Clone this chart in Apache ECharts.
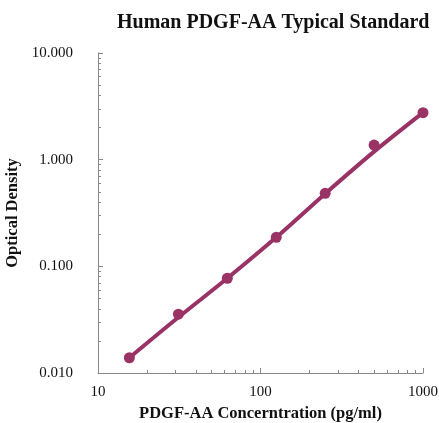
<!DOCTYPE html>
<html><head><meta charset="utf-8">
<script src="https://cdn.jsdelivr.net/npm/echarts@6/dist/echarts.min.js"></script>
<style>html,body{margin:0;padding:0;background:#fff}#c{width:439px;height:423px}</style>
</head><body><div id="c"></div>
<script>
var concentrations = [15.6, 31.25, 62.5, 125, 250, 500, 1000];
var odValues = [0.0139, 0.0356, 0.0773, 0.187, 0.484, 1.37, 2.76];
var fitValues = [0.0139, 0.0333, 0.0773, 0.187, 0.48, 1.19, 2.76];
var xMajorTicks = [10, 100, 1000];
var xMinorTicks = [20,30,40,50,60,70,80,90,200,300,400,500,600,700,800,900];
var yMajorTicks = [0.01, 0.1, 1, 10];
var yMinorTicks = [0.02,0.03,0.04,0.05,0.06,0.07,0.08,0.09,0.2,0.3,0.4,0.5,0.6,0.7,0.8,0.9,2,3,4,5,6,7,8,9];

var color = '#993366';
var font = 'Liberation Serif';
var chart = echarts.init(document.getElementById('c'));
chart.setOption({
  animation: false,
  title: {
    text: 'Human PDGF-AA Typical Standard',
    left: 112, top: 8,
    textStyle: {fontFamily: font, fontWeight: 'bold', fontSize: 20, color: '#111'}
  },
  grid: {left: 98, right: 16, top: 53, bottom: 50, containLabel: false, outerBoundsMode: 'none'},
  xAxis: [{
    type: 'log', min: 10, max: 1000, logBase: 10, position: 'bottom',
    name: 'PDGF-AA Concerntration (pg/ml)', nameLocation: 'middle', nameGap: 30,
    nameTextStyle: {fontFamily: font, fontWeight: 'bold', fontSize: 16.5, color: '#111'},
    axisLine: {show: true, lineStyle: {color: '#888', width: 1}},
    axisTick: {show: true, inside: true, length: 5, customValues: xMajorTicks, lineStyle: {color: '#888'}},
    axisLabel: {customValues: xMajorTicks, margin: 12, fontFamily: font, fontSize: 15, color: '#111',
      formatter: function (v) { return String(Math.round(v)); }},
    splitLine: {show: false}
  }, {
    type: 'log', min: 10, max: 1000, logBase: 10, position: 'bottom',
    axisLine: {show: false},
    axisTick: {show: true, inside: true, length: 3, customValues: xMinorTicks, lineStyle: {color: '#888'}},
    axisLabel: {show: false},
    splitLine: {show: false}
  }],
  yAxis: [{
    type: 'log', min: 0.01, max: 10, logBase: 10, position: 'left',
    name: 'Optical Density', nameLocation: 'middle', nameGap: 68, nameRotate: 90,
    nameTextStyle: {fontFamily: font, fontWeight: 'bold', fontSize: 16.5, color: '#111'},
    axisLine: {show: true, lineStyle: {color: '#888', width: 1}},
    axisTick: {show: true, inside: true, length: 5, customValues: yMajorTicks, lineStyle: {color: '#888'}},
    axisLabel: {customValues: yMajorTicks, margin: 25, fontFamily: font, fontSize: 15, color: '#111',
      formatter: function (v) { return Number(v).toFixed(3); }},
    splitLine: {show: false}
  }, {
    type: 'log', min: 0.01, max: 10, logBase: 10, position: 'left',
    axisLine: {show: false},
    axisTick: {show: true, inside: true, length: 3, customValues: yMinorTicks, lineStyle: {color: '#888'}},
    axisLabel: {show: false},
    splitLine: {show: false}
  }],
  series: [{
    type: 'line',
    data: concentrations.map(function (c, i) { return [c, fitValues[i]]; }),
    showSymbol: false, smooth: 0.3,
    lineStyle: {color: color, width: 4},
    z: 2
  }, {
    type: 'scatter',
    data: concentrations.map(function (c, i) { return [c, odValues[i]]; }),
    symbolSize: 11,
    itemStyle: {color: color, opacity: 1},
    z: 3
  }]
});
</script></body></html>
